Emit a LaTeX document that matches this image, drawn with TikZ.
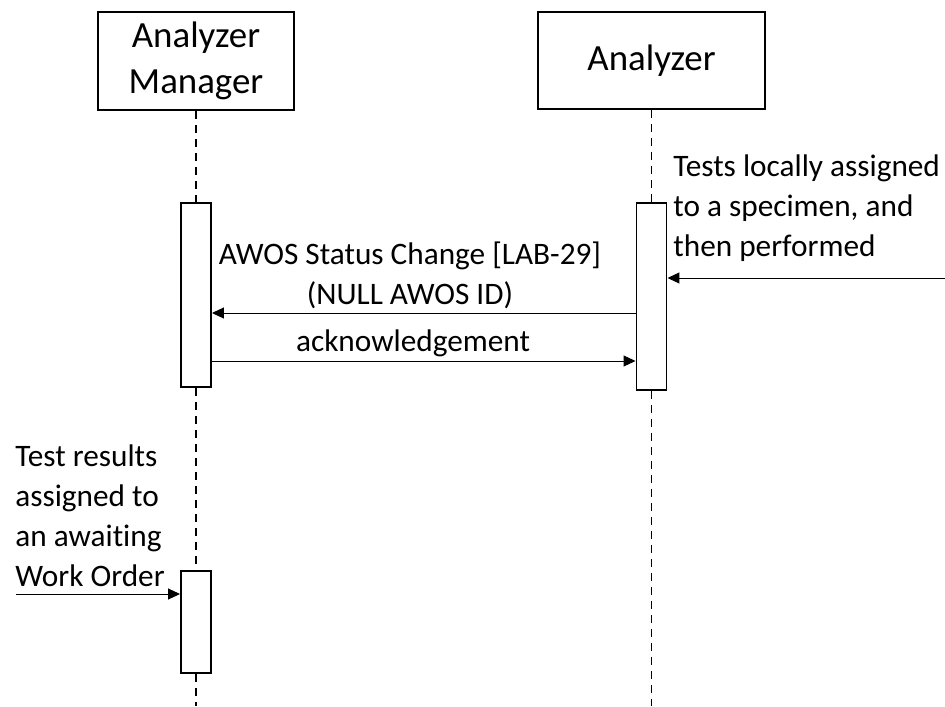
\documentclass[tikz,border=0pt]{standalone}
\usepackage{fontspec}
\setmainfont{Carlito}[Ligatures=NoCommon]
\usepackage{tikz}
\usetikzlibrary{positioning,arrows.meta}

\begin{document}
\begin{tikzpicture}[x=0.02cm,y=-0.02cm]
\tikzstyle{actor}=[draw,line width=1.1pt,rectangle,align=center,font=\fontsize{21}{26}\selectfont]
\tikzstyle{act}=[draw,line width=1.1pt,rectangle,fill=white,minimum width=0.6cm,inner sep=0pt]
\tikzstyle{life}=[line width=.8pt,dash pattern=on 0.16cm off 0.12cm]
\tikzstyle{msg}=[line width=.55pt,-{Triangle[length=0.24cm,width=0.22cm]}]
\tikzstyle{lbl}=[inner sep=0pt,font=\fontsize{17.8}{22.8}\selectfont]
    \useasboundingbox (0,0) rectangle (945,706);
    % actors
    \node[actor,minimum width=3.92cm,minimum height=1.96cm] (mgr) at (196,61) {Analyzer\\Manager};
    \node[actor,minimum width=4.54cm,minimum height=1.94cm] (ana) at (651.5,60.5) {Analyzer};
    % activations
    \node[act,minimum height=3.68cm] (act1) at (196,295) {};
    \node[act,minimum height=3.74cm] (act2) at (651.5,296.5) {};
    \node[act,minimum height=2.04cm] (act3) at (196,622) {};
    \coordinate (end1) at (196,706);
    \coordinate (end2) at (651.5,706);
    % lifelines
    \draw[life] (mgr.south) to (act1.north);
    \draw[life] (act1.south) to (act3.north);
    \draw[life] (act3.south) to (end1);
    \draw[life] (ana.south) to (act2.north);
    \draw[life] (act2.south) to (end2);
    % messages
    \coordinate (in2) at (945,278);
    \coordinate (r1) at (0,313);
    \coordinate (r2) at (0,361);
    \coordinate (in3) at (16,594);
    \draw[msg] (in2) to (in2 -| act2.east);
    \draw[msg] (act2.west |- r1) to (act1.east |- r1);
    \draw[msg] (act1.east |- r2) to (act2.west |- r2);
    \draw[msg] (in3) to (in3 -| act3.west);
    % labels
    \node[lbl,align=left,anchor=north west] (t1) at (673,154) {Tests locally assigned\\to a specimen, and\\then performed};
    \node[lbl,align=center,anchor=south] (t2) at (410,309) {AWOS Status Change [LAB-29]\\(NULL AWOS ID)};
    \node[lbl,anchor=base] (t3) at (413,351) {acknowledgement};
    \node[lbl,align=left,anchor=north west] (t4) at (15,444) {Test results\\assigned to\\an awaiting\\Work Order};
  \end{tikzpicture}
\end{document}
